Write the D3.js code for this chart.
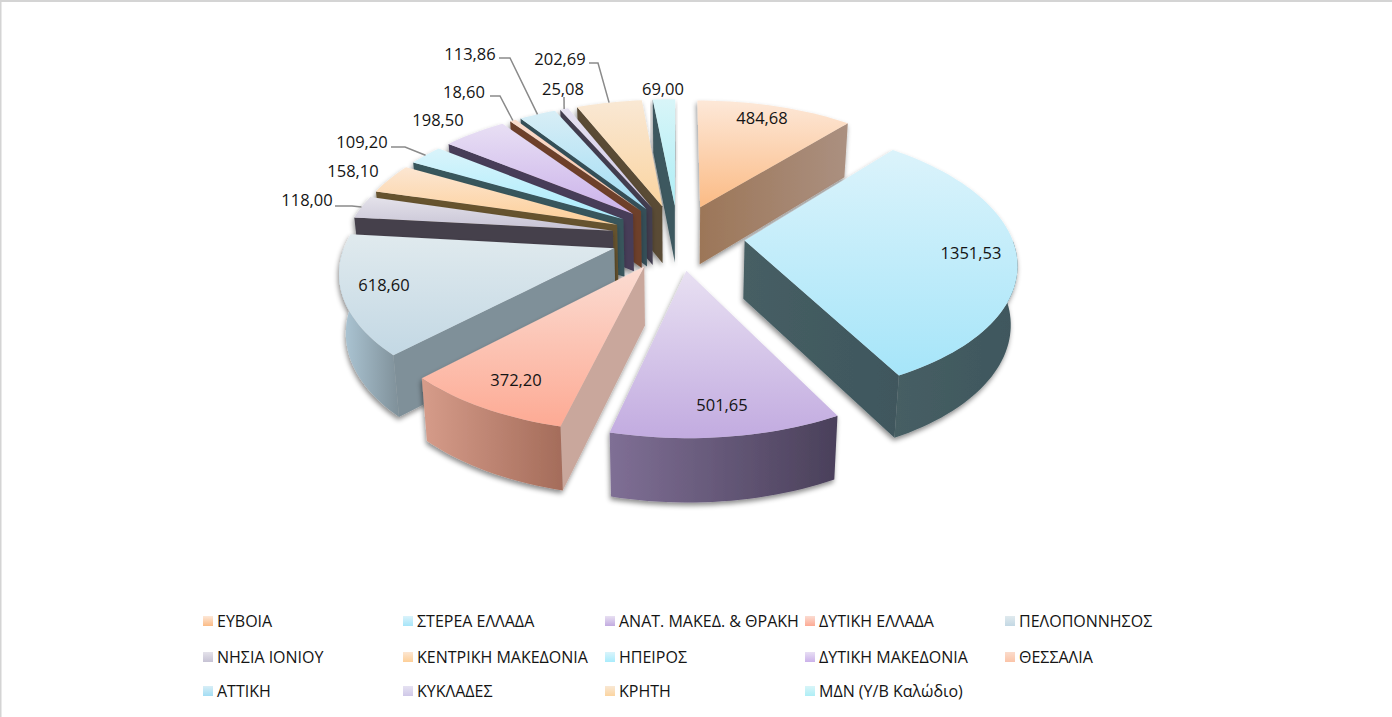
<!DOCTYPE html>
<html>
<head>
<meta charset="utf-8">
<script src="https://cdn.jsdelivr.net/npm/d3@7"></script>
<style>
html,body{margin:0;padding:0;background:#fff;overflow:hidden}
text{font-family:"Open Sans","Noto Sans",sans-serif;fill:#141414}
</style>
</head>
<body>
<script>
// data
var regions = ["ΕΥΒΟΙΑ","ΣΤΕΡΕΑ ΕΛΛΑΔΑ","ΑΝΑΤ. ΜΑΚΕΔ. & ΘΡΑΚΗ","ΔΥΤΙΚΗ ΕΛΛΑΔΑ","ΠΕΛΟΠΟΝΝΗΣΟΣ","ΝΗΣΙΑ ΙΟΝΙΟΥ","ΚΕΝΤΡΙΚΗ ΜΑΚΕΔΟΝΙΑ","ΗΠΕΙΡΟΣ","ΔΥΤΙΚΗ ΜΑΚΕΔΟΝΙΑ","ΘΕΣΣΑΛΙΑ","ΑΤΤΙΚΗ","ΚΥΚΛΑΔΕΣ","ΚΡΗΤΗ","ΜΔΝ (Υ/Β Καλώδιο)"];
var values = [484.68,1351.53,501.65,372.20,618.60,118.00,158.10,109.20,198.50,18.60,113.86,25.08,202.69,69.00];

// colours of each slice: top light, top strong, side light, side dark
var topLight = ["#fde8d8","#dbf3fb","#e8e0f2","#fbdcd2","#e0eaee","#e4e2ea","#fce6d2","#daf4fb","#e8dff4","#fbdccc","#d8eef6","#e6e2f2","#f9e8d4","#d8f5f8"];
var topStrong = ["#fbbb85","#a6e5f9","#c2abe0","#fdaa94","#c3d8e4","#c6c2d4","#fdcf98","#a9ecfc","#cbb2ea","#fbc4a8","#a2ddf4","#cfc8e8","#fbd4a0","#aeeef6"];
var sideLight = ["#9c7658","#465e64","#7f6f95","#d69c8a","#afc9d8","#55505e","#7a6443","#416a70","#584c6c","#85523b","#41626a","#524e62","#6e5f48","#4c686e"];
var sideDark = ["#ab9080","#3f575d","#4a405a","#a46c5a","#7f9099","#45414c","#66522f","#38565c","#463c58","#6e412c","#355058","#423e50","#5a4c36","#3e585e"];

// layout of the label texts
var labelPos = [[762,120],[971,255],[722,407],[516,382],[384,287],[307,202],[353,173],[362,144],[438,122],[464,94],[470,56],[563,91],[560,61],[663,91]];
// leader elbows, only the slices that have one (start of line, elbow)
var leaders = {5:[[335,206],[352,206]],7:[[391,147],[405,147]],9:[[490,96],[500,96]],10:[[499,58],[510,58]],11:[[564,97],[564,97]],12:[[589,63],[598,63]]};
var legendX = [203,403,605,805,1005];
var legendY = [623,659,693];

var width = 1392, height = 717;
var cx = 678, cy = 237, rx = 267, ry = 131, explode = 0.25, persp = 0.15, depth = 58, lowScale = 0.98;

var svg = d3.select("body").append("svg")
    .attr("width", width)
    .attr("height", height)
    .style("display", "block");
var defs = svg.append("defs");

svg.append("rect").attr("x",0).attr("y",0).attr("width",width).attr("height",height).attr("fill","#fff");
svg.append("path").attr("d","M0.5,"+height+"V1H"+width).attr("fill","none").attr("stroke","#d4d4d4").attr("stroke-width",2);

var shadow = defs.append("filter").attr("id","shadow")
    .attr("x","-10%").attr("y","-10%").attr("width","120%").attr("height","125%");
shadow.append("feDropShadow").attr("dx",-1).attr("dy",3).attr("stdDeviation",2.5)
    .attr("flood-color","#000").attr("flood-opacity",0.45);

var pie = d3.pie().sort(null).value(function(d){ return d; });
var arcs = pie(values);

// ground position -> screen, low=true for the lower rim
function project(X, D, low) {
  var s = 1 / (1 - persp * D);
  var z = low ? lowScale : 1;
  return [cx + rx * X * s * z, cy + ry * D * s + (low ? depth * Math.sqrt(s) : 0)];
}
function rimPoint(a, t, r, low) {
  var mid = (a.startAngle + a.endAngle) / 2;
  var X = explode * Math.sin(mid) + r * Math.sin(t);
  var D = -explode * Math.cos(mid) - r * Math.cos(t);
  return project(X, D, low);
}
function sampled(t0, t1) {
  var n = Math.max(2, Math.ceil((t1 - t0) / 0.03));
  return d3.range(n + 1).map(function(i){ return t0 + (t1 - t0) * i / n; });
}
var line = d3.line();

function gradient(id, horizontal, c0, c1) {
  var g = defs.append("linearGradient").attr("id", id)
      .attr("x1",0).attr("y1",0).attr("x2",horizontal ? 1 : 0).attr("y2",horizontal ? 0 : 1);
  g.append("stop").attr("offset","0%").attr("stop-color",c0);
  g.append("stop").attr("offset","100%").attr("stop-color",c1);
}

arcs.forEach(function(a, i){
  gradient("top"+i, false, topLight[i], topStrong[i]);
  gradient("side"+i, true, sideLight[i], sideDark[i]);
});

// back slices first
var order = d3.range(arcs.length).sort(function(p, q){
  var mp = (arcs[p].startAngle + arcs[p].endAngle) / 2, mq = (arcs[q].startAngle + arcs[q].endAngle) / 2;
  return Math.cos(mq) - Math.cos(mp);
});

order.forEach(function(i){
  var a = arcs[i];
  var g = svg.append("g").attr("filter","url(#shadow)");
  var t0 = a.startAngle, t1 = a.endAngle;

  function radial(t) {
    return line([rimPoint(a,t,0,false), rimPoint(a,t,1,false), rimPoint(a,t,1,true), rimPoint(a,t,0,true)]) + "Z";
  }
  // a flat side shows when it faces the viewer
  if (-Math.sin(t0) > 0) g.append("path").attr("d", radial(t0)).attr("fill", i == 3 ? "#c9a79c" : sideDark[i]);
  if (Math.sin(t1) > 0) g.append("path").attr("d", radial(t1)).attr("fill", "url(#side"+i+")");

  var f0 = Math.max(t0, Math.PI / 2), f1 = Math.min(t1, Math.PI * 1.5);
  if (f1 > f0) {
    var ts = sampled(f0, f1);
    var pts = ts.map(function(t){ return rimPoint(a,t,1,false); })
      .concat(ts.slice().reverse().map(function(t){ return rimPoint(a,t,1,true); }));
    g.append("path").attr("d", line(pts) + "Z").attr("fill", "url(#side"+i+")");
  }

  var top = [rimPoint(a,t0,0,false)].concat(sampled(t0,t1).map(function(t){ return rimPoint(a,t,1,false); }));
  g.append("path").attr("d", line(top) + "Z").attr("fill", "url(#top"+i+")");
});

// leader lines
Object.keys(leaders).forEach(function(k){
  var a = arcs[k];
  var end = rimPoint(a, (a.startAngle + a.endAngle) / 2, 1, false);
  svg.append("path").attr("d", line(leaders[k].concat([end])))
      .attr("fill","none").attr("stroke","#8a8a8a").attr("stroke-width",1.5);
});

// value labels
values.forEach(function(v, i){
  svg.append("text").attr("x", labelPos[i][0]).attr("y", labelPos[i][1])
      .attr("text-anchor","middle").attr("dominant-baseline","middle")
      .style("font-size","16.5px")
      .text(v.toFixed(2).replace(".", ","));
});

// legend
regions.forEach(function(r, i){
  var x = legendX[i % 5], y = legendY[Math.floor(i / 5)];
  svg.append("rect").attr("x",x).attr("y",y-7).attr("width",10).attr("height",10).attr("fill","url(#top"+i+")");
  svg.append("text").attr("x",x+14).attr("y",y).attr("dominant-baseline","middle")
      .style("font-size","16px").text(r);
});
</script>
</body>
</html>
